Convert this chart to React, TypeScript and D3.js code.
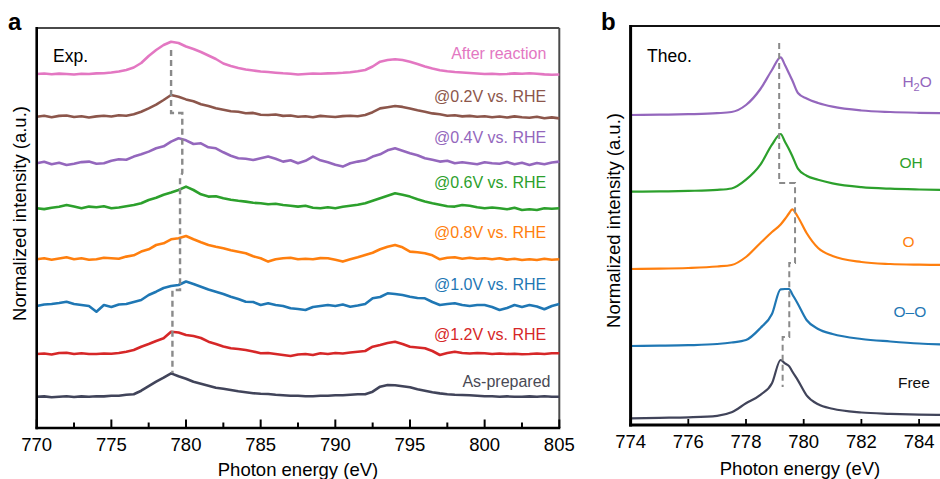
import React from 'react';
import * as d3 from 'd3';

const FONT = '"Liberation Sans", Arial, Helvetica, sans-serif';

// ---------- Panel a (experimental) ----------
const EXP_START = 770;
const EXP_STEP = 0.5;
const EXP_TICKS = [770, 775, 780, 785, 790, 795, 800, 805];
const EXP_MINOR = [772.5, 777.5, 782.5, 787.5, 792.5, 797.5, 802.5];

const EXP_LABELS = ['As-prepared', '@1.2V vs. RHE', '@1.0V vs. RHE', '@0.8V vs. RHE', '@0.6V vs. RHE', '@0.4V vs. RHE', '@0.2V vs. RHE', 'After reaction'];
const EXP_COLORS = ['#41445a', '#d62728', '#1f77b4', '#ff7f0e', '#2ca02c', '#9467bd', '#8c564b', '#e377c2'];
const EXP_LABEL_COLORS = ['#4a4a55', '#d62728', '#1f77b4', '#ff7f0e', '#2ca02c', '#9467bd', '#8c564b', '#e377c2'];
const EXP_OFFSETS = [31.3, 74, 122, 168.7, 219.7, 264.7, 311.3, 354];
const EXP_LABEL_LEVEL = [41, 88, 138, 190, 240, 285, 326, 369];
const EXP_LABEL_E = [804.41, 804.13, 804.13, 804.13, 804.13, 804.13, 804.13, 804.13];

const AS_PREPARED = [0, 0.3, -0.5, 0, 0.5, -0.3, 0.3, 0, 0.5, 0.3, 1, 1, 2, 2.5, 6, 10.5, 15, 19, 23.3, 20.5, 18, 15, 13, 11, 9, 8, 6.7, 5.5, 4.5, 3.5, 3, 2.7, 2, 1.5, 1, 1, 0.5, 0.5, 1, 1, 1.5, 1.5, 2, 2.5, 2.5, 5, 10, 11.7, 11.5, 10.5, 9.5, 7.5, 6, 4.5, 3.3, 2.5, 2, 1.7, 1.5, 1, 0.5, 0.5, 0, 0.3, 0, 0, 0.3, 0, 0.5, 0, 0];
const V12 = [0, 0.5, -0.5, 1, 1.3, 0, 0.8, 0, 0, 0.5, 0.3, 1, 2.3, 4, 7.3, 10, 13, 15.7, 22.3, 21.5, 19, 18, 16, 12.3, 10, 7.5, 5.7, 5, 4, 2.5, 0.7, 1, 0, -1, -2, -0.5, 0, -1, 0.7, 0, 1, 0.5, 1.5, 2.3, 3, 7.3, 9, 11, 12.3, 10, 7.3, 6.5, 5.7, 3, -1, 1, 2.3, 1, 0.5, 1, 0.7, 0, 0.5, 0, 0.3, -0.3, 0, 0.5, 0, 0.8, 0.7];
const V10 = [0, 1.5, 2, 3, 4.3, 2, 1, 0, -5.7, 1, -1, 1.5, 2, 4, 6, 11, 14.3, 18, 20, 21, 24.5, 22, 19.3, 16.5, 14.3, 12, 9.3, 7, 4.3, 4, 1, 2.7, 1, 0, -2.3, -3, -4, -1, 0, 1, 0, 1.5, -0.7, 0.5, 2, 7.7, 9, 12.7, 12, 11, 9.3, 8, 7.7, 4, 1, 2, 2.7, 1, 0, 1, 1, -1, -4, -2, 1, -1, 1, -0.5, -3.3, 0, 2];
const V08 = [0, 1, -0.5, 0.8, 2, 0, 1, -0.5, 0, 1.5, 1, 0.5, 2.7, 4, 7.7, 10, 14.3, 16, 20, 21, 23.3, 20, 17, 14.3, 12.5, 11, 9, 7.5, 6, 3, 1, -2.3, 0, 1, 1.5, 0, 0.5, 0, 1.2, 1, -0.5, -2.3, 0, 2, 4.3, 6.5, 10, 12.5, 14.3, 12, 7.7, 7, 6, 4, 0, 1.5, 2, 0.5, 1.5, 0.5, 1, 0, 1, -0.3, 0.5, -0.7, 0, -0.7, 0.5, -0.5, 0];
const V06 = [0, -0.8, 0.5, 1.5, 3.3, 1.7, 0, 1.7, 1, 2, 0, 0.8, 2, 3.3, 5, 8.3, 10.5, 13.5, 15.7, 18.3, 21.7, 18.3, 14, 11.7, 12, 10, 8.5, 7.5, 6.7, 5.5, 5, 4, 4.5, 3.3, 2.5, 1.7, 2.5, 0.5, 0, 1, 0, 1.5, 2.5, 3.5, 5, 7.5, 10, 12.5, 15, 13.5, 11.7, 9, 6.7, 5, 3.5, 2, 1.7, 3.3, 2.5, 1, 0, 0.8, 0, -1, 0.5, -1.7, -1, -1.7, 0, -0.5, 0];
const V04 = [0, 1.5, -1, 0.5, -1.7, -0.5, 1.2, 1.7, -0.5, 0, 2.5, 4, 3.5, 6.7, 9, 11.7, 15, 17, 21.7, 25, 23, 19.3, 20, 16, 15, 11, 7.5, 5, 4.5, 3.3, 5, 6.7, 4.5, 1.7, 3, 0, 2.5, 6.7, 3, 1, -1.5, -3.3, 0, 1.7, 3, 6.7, 9, 13, 15, 12.5, 10, 8, 5, 3.5, 1.7, 2.5, 0, 1, 0, -1, 1, 0, -0.5, 1.2, -1, 0.5, -1.7, 0.3, -1, 0.8, 1.7];
const V02 = [0, 1, -0.5, 0.8, 1.2, -0.3, 0.5, -0.8, 0.3, 1, 0.2, 1.5, 1, 2.5, 5, 8.3, 12, 16.7, 21.7, 20, 17.3, 15.5, 12.5, 10.7, 8.5, 7, 5.5, 5, 3.5, 3.8, 2, 1.7, 2.2, 0.8, 1.2, 0, 0.5, -0.5, 0.8, 0.2, -0.3, 0.6, 1, 0.5, 1.7, 4.5, 8.3, 9.5, 10.7, 9.8, 8.3, 6.5, 5, 3.3, 2.5, 1, 1.5, 0.3, 0.8, 0, 0.5, -0.5, 0.2, -0.8, 0.3, -0.5, -1, 0, -1.5, -0.7, -1.7];
const AFTER = [0, 0.5, -0.3, 0.4, 0, -0.5, 0.3, 0, 0.6, 0.8, 1.5, 2.5, 4, 6.5, 11, 18, 24, 29, 32.3, 31, 27.5, 25, 22, 18.5, 15, 10.5, 8, 6, 4.5, 3.5, 2.5, 2, 1.3, 0.7, 0.3, -0.5, 0, 0.5, 0.2, 0.6, 0.8, 1.2, 1.8, 2.8, 4, 7.5, 12.3, 14, 14.7, 14, 12.3, 10, 7.5, 5.5, 3.8, 2.8, 2, 1.5, 1, 0.5, 0, 0.3, -0.3, 0, 0.6, 0.2, 0.7, 0.3, -0.4, -0.8, -0.5];
const EXP_SERIES = [AS_PREPARED, V12, V10, V08, V06, V04, V02, AFTER];

const PEAK_A_E = [779.0, 779.0, 779.75, 779.75, 779.6, 779.6, 779.09, 779.09];
const PEAK_A_LEVEL = [378, 315, 315, 255, 250, 138, 138, 55];

// ---------- Panel b (theory) ----------
const THEO_E = [774, 775, 776, 777, 777.5, 778, 778.5, 778.9, 779.2, 779.35, 779.5, 779.6, 779.8, 780.1, 780.5, 781, 782, 783, 784, 785, 786];
const THEO_TICKS = [774, 776, 778, 780, 782, 784];
const THEO_LABELS = ['Free', 'O–O', 'O', 'OH', 'H2O'];
const THEO_COLORS = ['#41445a', '#1f77b4', '#ff7f0e', '#2ca02c', '#9467bd'];
const THEO_LABEL_COLORS = ['#111111', '#1f77b4', '#ff7f0e', '#2ca02c', '#9467bd'];
const THEO_OFFSETS = [6.7, 79, 156, 233.3, 310];
const THEO_LABEL_LEVEL = [37, 108, 178, 257, 338];
const THEO_LABEL_E = [783.82, 783.68, 783.63, 783.72, 783.93];

const FREE = [0, 0.5, 1, 2.5, 6, 15, 23.5, 35, 58.3, 55, 52, 47, 38, 23, 14, 9.5, 5.8, 4.5, 3.7, 3.3, 3];
const OO = [0, 0.3, 0.8, 2, 3.5, 6, 18, 32, 56.7, 57, 57, 52, 42, 26, 17, 12, 7, 4.5, 2.5, 1.5, 1];
const O_ = [0, 0.3, 1, 2.5, 4, 12, 26, 37, 44.5, 50, 56, 59.7, 52, 36, 21, 13, 7, 5, 4.3, 4, 4];
const OH = [0, 0.3, 0.8, 1.8, 3.2, 12, 27, 47, 57.7, 50, 42, 36, 23, 16, 12, 8.4, 4.6, 3, 2.2, 1.7, 1.5];
const H2O = [0, 0.3, 0.8, 1.8, 3, 10, 26, 45, 57.7, 50, 41, 35, 22, 16.5, 12, 8.3, 4.5, 3, 2.2, 1.7, 1.5];
const THEO_SERIES = [FREE, OO, O_, OH, H2O];

const PEAK_B_E = [779.15, 779.15, 779.7, 779.7, 779.5, 779.5, 779.27, 779.27];
const PEAK_B_LEVEL = [382, 242, 242, 162, 162, 88, 88, 38];

export default function App() {
  const W = 940, H = 479;

  // scales panel a
  const xA = d3.scaleLinear().domain([770, 805]).range([36.7, 559.3]);
  const yA = d3.scaleLinear().domain([0, 400]).range([428, 28]);
  // scales panel b
  const xB = d3.scaleLinear().domain([774, 786]).range([630.6, 630.6 + 12 * 28.85]);
  const yB = d3.scaleLinear().domain([0, 400]).range([425, 25]);

  const lineA = d3.line<[number, number]>().x(d => xA(d[0])).y(d => yA(d[1])).curve(d3.curveLinear);
  const lineB = d3.line<[number, number]>().x(d => xB(d[0])).y(d => yB(d[1])).curve(d3.curveMonotoneX);
  const dashA = d3.line<[number, number]>().x(d => xA(d[0])).y(d => yA(d[1]));
  const dashB = d3.line<[number, number]>().x(d => xB(d[0])).y(d => yB(d[1]));

  const expPaths = EXP_SERIES.map((vals, si) =>
    lineA(vals.map((v, i) => [EXP_START + EXP_STEP * i, EXP_OFFSETS[si] + v] as [number, number])) || ''
  );
  const theoPaths = THEO_SERIES.map((vals, si) =>
    lineB(vals.map((v, i) => [THEO_E[i], THEO_OFFSETS[si] + v] as [number, number])) || ''
  );

  const aLeft = xA(770), aRight = xA(805), aTop = yA(400), aBottom = yA(0);
  const bLeft = xB(774), bTop = yB(400), bBottom = yB(0);

  return (
    <svg width={W} height={H} viewBox={`0 0 ${W} ${H}`}
      style={{ position: 'absolute', left: 0, top: 0, background: '#fff', fontFamily: FONT }}>
      <rect x={0} y={0} width={W} height={H} fill="#fff" />

      {/* ---------------- Panel a ---------------- */}
      <text x={8} y={30} fontSize={24} fontWeight="bold" fill="#000">a</text>

      {/* frame */}
      <line x1={aLeft} x2={aRight} y1={aTop} y2={aTop} stroke="#4a4a4a" strokeWidth={2} />
      <line x1={aRight} x2={aRight} y1={aTop} y2={aBottom} stroke="#4a4a4a" strokeWidth={2} />

      {/* curves */}
      {expPaths.map((p, i) => (
        <path key={'ea' + i} d={p} fill="none" stroke={EXP_COLORS[i]} strokeWidth={2.6} strokeLinejoin="round" />
      ))}

      {/* peak guide */}
      <path d={dashA(PEAK_A_E.map((e, i) => [e, PEAK_A_LEVEL[i]] as [number, number])) || ''}
        fill="none" stroke="#8a8a8a" strokeWidth={2.4} strokeDasharray="6,4" />

      {/* labels */}
      {EXP_LABELS.map((t, i) => (
        <text key={'la' + i} x={xA(EXP_LABEL_E[i])} y={yA(EXP_LABEL_LEVEL[i])} fontSize={16}
          textAnchor="end" fill={EXP_LABEL_COLORS[i]}>{t}</text>
      ))}
      <text x={53} y={62} fontSize={17.5} fill="#000">Exp.</text>

      {/* axes */}
      <line x1={aLeft} x2={aLeft} y1={aTop - 1} y2={aBottom + 1.2} stroke="#000" strokeWidth={2.6} />
      <line x1={aLeft - 1.2} x2={aRight + 1} y1={aBottom} y2={aBottom} stroke="#000" strokeWidth={2.6} />
      {EXP_TICKS.map(t => (
        <g key={'ta' + t}>
          <line x1={xA(t)} x2={xA(t)} y1={aBottom} y2={aBottom - 8.5} stroke="#000" strokeWidth={2} />
          <text x={xA(t)} y={451} fontSize={18.5} textAnchor="middle" fill="#000">{t}</text>
        </g>
      ))}
      {EXP_MINOR.map(t => (
        <line key={'ma' + t} x1={xA(t)} x2={xA(t)} y1={aBottom} y2={aBottom - 5.5} stroke="#000" strokeWidth={2} />
      ))}
      <text x={298} y={476} fontSize={18.5} textAnchor="middle" fill="#000">Photon energy (eV)</text>
      <text transform="translate(26,213.5) rotate(-90)" fontSize={18.5} textAnchor="middle" fill="#000">Normalized intensity (a.u.)</text>

      {/* ---------------- Panel b ---------------- */}
      <text x={601} y={30} fontSize={24} fontWeight="bold" fill="#000">b</text>

      <line x1={bLeft} x2={W} y1={bTop + 1} y2={bTop + 1} stroke="#111" strokeWidth={2.2} />

      {theoPaths.map((p, i) => (
        <path key={'tb' + i} d={p} fill="none" stroke={THEO_COLORS[i]} strokeWidth={2.2} strokeLinejoin="round" />
      ))}

      <path d={dashB(PEAK_B_E.map((e, i) => [e, PEAK_B_LEVEL[i]] as [number, number])) || ''}
        fill="none" stroke="#8a8a8a" strokeWidth={2} strokeDasharray="6,4" />

      {THEO_LABELS.map((t, i) => (
        <text key={'lb' + i} x={xB(THEO_LABEL_E[i])} y={yB(THEO_LABEL_LEVEL[i])} fontSize={15.5}
          textAnchor="middle" fill={THEO_LABEL_COLORS[i]}>
          {t === 'H2O' ? (<><tspan>H</tspan><tspan fontSize={11} dy={4}>2</tspan><tspan dy={-4}>O</tspan></>) : t}
        </text>
      ))}
      <text x={647} y={62} fontSize={17.5} fill="#000">Theo.</text>

      <line x1={bLeft} x2={bLeft} y1={bTop} y2={bBottom + 1.5} stroke="#000" strokeWidth={3} />
      <line x1={bLeft - 1.5} x2={W} y1={bBottom} y2={bBottom} stroke="#000" strokeWidth={3} />
      {THEO_TICKS.map(t => (
        <g key={'tkb' + t}>
          <line x1={xB(t)} x2={xB(t)} y1={bBottom} y2={bBottom - 6} stroke="#000" strokeWidth={1.8} />
          <text x={xB(t)} y={448} fontSize={18.5} textAnchor="middle" fill="#000">{t}</text>
        </g>
      ))}
      <text x={800} y={475} fontSize={18.5} textAnchor="middle" fill="#000">Photon energy (eV)</text>
      <text transform="translate(620,220.5) rotate(-90)" fontSize={18.5} textAnchor="middle" fill="#000">Normalized intensity (a.u.)</text>
    </svg>
  );
}
